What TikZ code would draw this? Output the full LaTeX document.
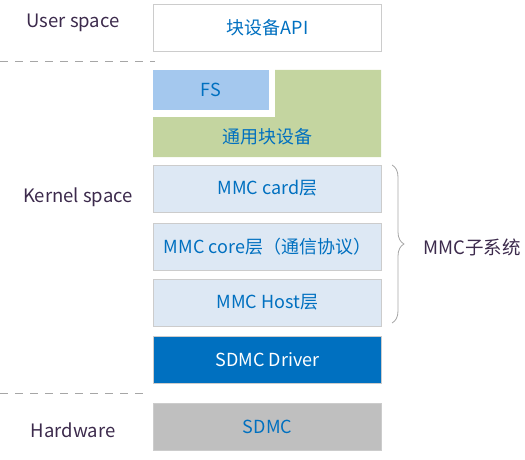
\documentclass[tikz,border=0pt]{standalone}
\usepackage{fontspec}
\setmainfont{Noto Sans CJK SC}
\usetikzlibrary{decorations.pathreplacing}
\definecolor{txtblue}{HTML}{0070C0}
\definecolor{lblcol}{HTML}{3C2A4C}
\definecolor{fsblue}{HTML}{A4C8EE}
\definecolor{gengreen}{HTML}{C4D5A0}
\definecolor{mmcfill}{HTML}{DDE8F4}
\definecolor{sdmcgray}{HTML}{BFBFBF}
\definecolor{linegray}{HTML}{A6A6A6}
\tikzset{layer/.style={draw=black!20, line width=0.8pt, minimum width=228pt, minimum height=47pt,
  text=txtblue, font=\fontsize{18}{21}\selectfont, inner sep=0pt}}
\tikzset{side/.style={text=lblcol, font=\fontsize{18.5}{22}\selectfont}}
\tikzset{sep/.style={linegray, line width=0.8pt, dash pattern=on 8pt off 7pt}}

\begin{document}
\begin{tikzpicture}[x=1pt, y=-1pt]
      \useasboundingbox (0, 0) rectangle (525, 460);

      \node [layer, fill=white] (api) at (267.5, 27.5) {块设备API};
      \draw [sep] (0, 61) -- (155, 61);

      \fill [gengreen] (275, 70) -- (381, 70) -- (381, 157) -- (153, 157) -- (153, 117) -- (275, 117) -- cycle;
      \node [layer, draw=none, fill=fsblue, minimum width=116pt, minimum height=40pt] (fs) at (211, 90) {FS};
      \node [text=txtblue, font=\fontsize{18}{21}\selectfont] (blk) at (267.5, 137) {通用块设备};

      \node [layer, fill=mmcfill] (card) at (267.5, 188.5) {MMC card层};
      \node [layer, fill=mmcfill] (core) at (267.5, 246.5) {MMC core层（通信协议）};
      \node [layer, fill=mmcfill] (host) at (267.5, 302.5) {MMC Host层};
      \node [layer, fill=txtblue, text=white] (drv) at (267.5, 359.5) {SDMC Driver};
      \draw [sep] (0, 393) -- (148, 393);
      \node [layer, fill=sdmcgray] (sdmc) at (267.5, 426.5) {SDMC};

      \draw [linegray, line width=0.8pt, decorate, decoration={brace, amplitude=12pt}] (392, 165) -- (392, 323) node [midway] (br) {};
      \node [side, anchor=west] (mmc) at (420, 247) {MMC子系统};

      \node [side] (user) at (73, 23) {User space};
      \node [side] (kern) at (78, 197) {Kernel space};
      \node [side] (hw) at (73, 430) {Hardware};
    \end{tikzpicture}
\end{document}
